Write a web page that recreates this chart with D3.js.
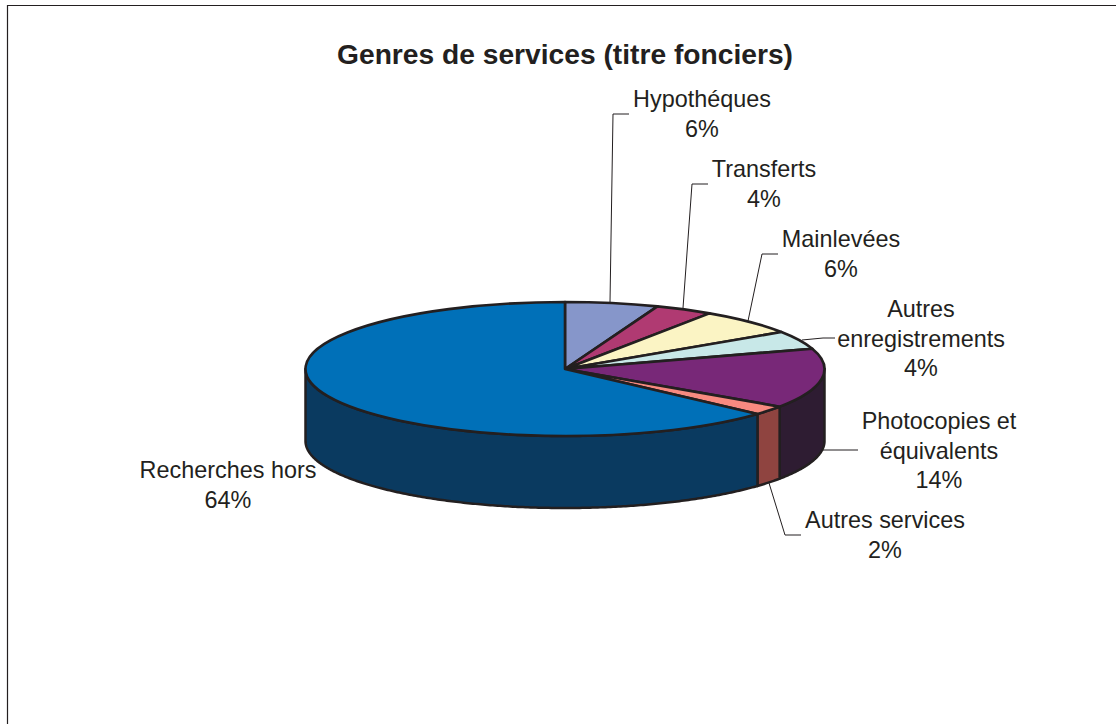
<!DOCTYPE html>
<html><head><meta charset="utf-8">
<script src="https://cdn.jsdelivr.net/npm/d3@7"></script>
<style>html,body{margin:0;padding:0;background:#fff}svg{display:block}text{font-family:"Liberation Sans",Arial,sans-serif;fill:#231f20}</style>
</head><body><svg id="c" width="1116" height="724"></svg>
<script>
const title = "Genres de services (titre fonciers)";
const categories = ["Hypothéques","Transferts","Mainlevées","Autres enregistrements","Photocopies et équivalents","Autres services","Recherches hors"];
const values = [5.8,3.6,6.3,4.4,14.4,2.2,63.3];
const percentLabels = ["6%","4%","6%","4%","14%","2%","64%"];
const labelLines = [["Hypothéques"],["Transferts"],["Mainlevées"],["Autres","enregistrements"],["Photocopies et","équivalents"],["Autres services"],["Recherches hors"]];
const topColors = ["#8696ca","#b03a72","#fbf4c4","#c8e8e8","#782878","#f88a80","#0070b8"];
const sideColors = ["#5e6a90","#7a2850","#b0aa88","#8ca2a2","#2e1c32","#8f4440","#0a3a60"];
const labelAnchors = [[702,107],[764,177],[841,247],[921,317],[939,429],[885,528],[228,478]];
const leaders = [
  [[610,302],[613,114],[629,114]],
  [[683,308],[692,184],[708,184]],
  [[748,321],[762,254],[778,254]],
  [[802,340],[823,338],[835,338]],
  [[823,450],[858,450]],
  [[769,483],[785,535],[801,535]],
  []
];
const cx=565, cy=369, rx=259.5, ry=67, depth=72, ink="#231f20";
const svg=d3.select("#c");

svg.append("path").attr("d","M7.5,724V5.5H1116").attr("fill","none").attr("stroke",ink).attr("stroke-width",1.2);
svg.append("text").attr("x",565).attr("y",64).attr("text-anchor","middle")
  .attr("font-size",28.2).attr("font-weight","bold").text(title);

const pie=d3.pie().sort(null).value(d=>d)(values);
const px=a=>cx+rx*Math.sin(a), py=a=>cy-ry*Math.cos(a);
const line=d3.line();

// side walls: only the front half of the cylinder is visible
const g3=svg.append("g");
pie.forEach((p,i)=>{
  const a0=Math.max(p.startAngle,Math.PI/2), a1=Math.min(p.endAngle,3*Math.PI/2);
  if(a1<=a0) return;
  const n=Math.max(2,Math.ceil((a1-a0)/0.01));
  const as=d3.range(n+1).map(k=>a0+(a1-a0)*k/n);
  const pts=as.map(a=>[px(a),py(a)]).concat(as.slice().reverse().map(a=>[px(a),py(a)+depth]));
  g3.append("path").attr("d",line(pts)+"Z").attr("fill",sideColors[i])
    .attr("stroke",ink).attr("stroke-width",2.5).attr("stroke-linejoin","round");
});

// top face
const arc=d3.arc().innerRadius(0).outerRadius(rx);
svg.append("g").attr("transform",`translate(${cx},${cy}) scale(1,${ry/rx})`)
  .selectAll("path").data(pie).join("path")
  .attr("d",arc).attr("fill",(d,i)=>topColors[i])
  .attr("stroke",ink).attr("stroke-width",2.6).attr("stroke-linejoin","round")
  .attr("vector-effect","non-scaling-stroke");

// leaders
leaders.forEach(l=>{ if(l.length) svg.append("path").attr("d",line(l)).attr("fill","none").attr("stroke",ink).attr("stroke-width",1); });

// labels
const fs=23.4, lh=29.5;
categories.forEach((c,i)=>{
  const t=svg.append("text").attr("text-anchor","middle").attr("font-size",fs);
  labelLines[i].concat([percentLabels[i]]).forEach((s,k)=>{
    t.append("tspan").attr("x",labelAnchors[i][0]).attr("y",labelAnchors[i][1]+k*lh).text(s);
  });
});
</script></body></html>
